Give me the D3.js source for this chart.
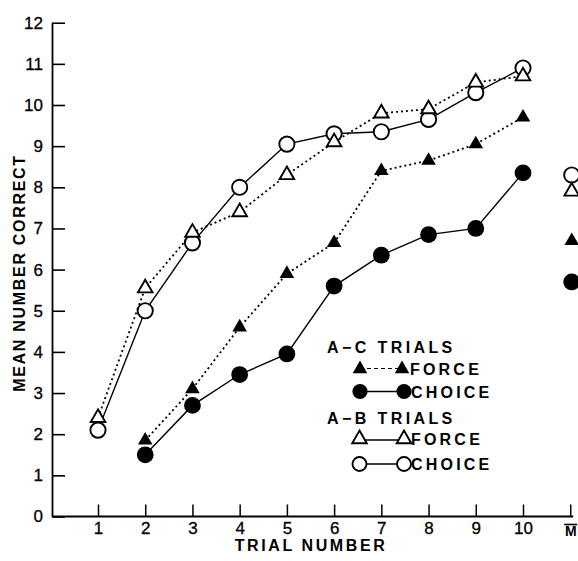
<!DOCTYPE html>
<html>
<head>
<meta charset="utf-8">
<script src="https://cdn.jsdelivr.net/npm/d3@7"></script>
<style>
  html, body { margin: 0; padding: 0; background: #fff; }
  svg { display: block; }
  text { font-family: "Liberation Sans", Arial, sans-serif; fill: #000; }
</style>
</head>
<body>
<svg id="chart" width="578" height="561"></svg>
<script>
// ---- data ----
const trials = [1, 2, 3, 4, 5, 6, 7, 8, 9, 10];
const acTrials = [2, 3, 4, 5, 6, 7, 8, 9, 10];
const abChoice = [2.1, 5.0, 6.65, 8.0, 9.05, 9.3, 9.35, 9.65, 10.3, 10.9];
const abForce  = [2.4, 5.55, 6.9, 7.4, 8.3, 9.1, 9.8, 9.9, 10.55, 10.7];
const acForce  = [1.85, 3.1, 4.6, 5.9, 6.65, 8.4, 8.65, 9.05, 9.7];
const acChoice = [1.5, 2.7, 3.45, 3.95, 5.6, 6.35, 6.85, 7.0, 8.35];
const meanPos = 11;
const means = { abChoice: 8.3, abForce: 7.9, acForce: 6.7, acChoice: 5.7 };
const yTicks = [0, 1, 2, 3, 4, 5, 6, 7, 8, 9, 10, 11, 12];
const xTicks = [1, 2, 3, 4, 5, 6, 7, 8, 9, 10, 11];
const xTickLabels = ["1", "2", "3", "4", "5", "6", "7", "8", "9", "10", "M"];
const xTitle = "TRIAL NUMBER";
const yTitle = "MEAN NUMBER CORRECT";
const legendHeads = ["A\u2212C TRIALS", "A\u2212B TRIALS"];
const legendLabels = ["FORCE", "CHOICE"];

// ---- scales ----
const svg = d3.select("#chart");
const x = d3.scaleLinear().domain([1, 10]).range([98, 523]);
const y = d3.scaleLinear().domain([0, 12]).range([516.5, 22.7]);
const axisX = 52;

// ---- y axis ----
const gy = svg.append("g").attr("transform", `translate(${axisX},0)`)
  .call(d3.axisLeft(y).tickValues(yTicks).tickSizeInner(-13).tickSizeOuter(0).tickPadding(9));
gy.select(".domain").attr("stroke", "#000").attr("stroke-width", 1.8);
gy.selectAll(".tick line").attr("stroke", "#000").attr("stroke-width", 1.6);
gy.selectAll(".tick text").attr("font-size", 17).attr("font-family", "Liberation Sans, Arial, sans-serif")
  .attr("stroke", "#000").attr("stroke-width", 0.3);

// ---- x axis ----
const gx = svg.append("g").attr("transform", `translate(0,${y(0)})`)
  .call(d3.axisBottom(x).tickValues(xTicks).tickFormat((d, i) => xTickLabels[i])
        .tickSizeInner(-12).tickSizeOuter(0).tickPadding(5));
gx.select(".domain").remove();
gx.append("line").attr("x1", axisX).attr("x2", x(meanPos) + 3).attr("y1", 0).attr("y2", 0)
  .attr("stroke", "#000").attr("stroke-width", 1.8);
gx.selectAll(".tick line").attr("stroke", "#000").attr("stroke-width", 1.5);
gx.selectAll(".tick text").attr("font-size", 17).attr("font-family", "Liberation Sans, Arial, sans-serif")
  .attr("stroke", "#000").attr("stroke-width", 0.3);
const mTick = gx.selectAll(".tick").filter(d => d === meanPos);
mTick.select("text").attr("font-weight", "bold").attr("font-size", 14).attr("dy", "1.05em")
  .attr("x", 0).attr("stroke", null);
mTick.append("line").attr("x1", -6.5).attr("x2", 6.5).attr("y1", 8).attr("y2", 8)
  .attr("stroke", "#000").attr("stroke-width", 1.6);

// ---- titles ----
svg.append("text").attr("x", 311).attr("y", 551).attr("text-anchor", "middle")
  .attr("font-size", 16).attr("font-weight", "bold").attr("letter-spacing", 2.6).text(xTitle);
svg.append("text").attr("transform", "translate(25,273) rotate(-90)").attr("text-anchor", "middle")
  .attr("font-size", 16).attr("font-weight", "bold").attr("letter-spacing", 1.7).text(yTitle);

// ---- lines ----
const line = d3.line().x(d => x(d[0])).y(d => y(d[1]));
const zip = (ts, vs) => ts.map((t, i) => [t, vs[i]]);
const series = [
  { data: zip(trials, abChoice), dash: null },
  { data: zip(trials, abForce), dash: "2,3" },
  { data: zip(acTrials, acForce), dash: "2,3" },
  { data: zip(acTrials, acChoice), dash: null }
];
series.forEach(s => {
  svg.append("path").attr("d", line(s.data)).attr("fill", "none").attr("stroke", "#000")
    .attr("stroke-width", s.dash ? 1.8 : 1.4).attr("stroke-dasharray", s.dash);
});

// ---- markers ----
const tri = d3.symbol(d3.symbolTriangle, 92);
function openCircle(g, cx, cy, r) {
  g.append("circle").attr("cx", cx).attr("cy", cy).attr("r", r || 7.6)
    .attr("fill", "#fff").attr("stroke", "#000").attr("stroke-width", 1.9);
}
function filledCircle(g, cx, cy, r) {
  g.append("circle").attr("cx", cx).attr("cy", cy).attr("r", r || 8.4).attr("fill", "#000");
}
function openTri(g, cx, cy) {
  g.append("path").attr("d", tri()).attr("transform", `translate(${cx},${cy})`)
    .attr("fill", "#fff").attr("stroke", "#000").attr("stroke-width", 1.9);
}
function filledTri(g, cx, cy) {
  g.append("path").attr("d", tri()).attr("transform", `translate(${cx},${cy})`).attr("fill", "#000");
}
const gm = svg.append("g");
acTrials.forEach((t, i) => filledCircle(gm, x(t), y(acChoice[i])));
acTrials.forEach((t, i) => filledTri(gm, x(t), y(acForce[i])));
trials.forEach((t, i) => openCircle(gm, x(t), y(abChoice[i])));
trials.forEach((t, i) => openTri(gm, x(t), y(abForce[i])));
// mean markers
openCircle(gm, x(meanPos) + 1.5, y(means.abChoice));
openTri(gm, x(meanPos) + 1.5, y(means.abForce));
filledTri(gm, x(meanPos) + 1.5, y(means.acForce));
filledCircle(gm, x(meanPos) + 1.5, y(means.acChoice));

// ---- legend ----
const lg = svg.append("g");
const headStyle = t => t.attr("font-size", 16).attr("font-weight", "bold").attr("letter-spacing", 3.4);
const lblStyle = t => t.attr("font-size", 16).attr("font-weight", "bold").attr("letter-spacing", 3.2);
headStyle(lg.append("text").attr("x", 327).attr("y", 353).text(legendHeads[0]));
// A-C force
lg.append("line").attr("x1", 360).attr("x2", 402).attr("y1", 368.5).attr("y2", 368.5)
  .attr("stroke", "#000").attr("stroke-width", 1.2).attr("stroke-dasharray", "4,3");
filledTri(lg, 360, 369); filledTri(lg, 402, 369);
lblStyle(lg.append("text").attr("x", 410).attr("y", 374.5).text(legendLabels[0]));
// A-C choice
lg.append("line").attr("x1", 360).attr("x2", 404).attr("y1", 391.5).attr("y2", 391.5)
  .attr("stroke", "#000").attr("stroke-width", 1.4);
filledCircle(lg, 360, 391.5, 7.6); filledCircle(lg, 404, 391.5, 7.6);
lblStyle(lg.append("text").attr("x", 411).attr("y", 398).text(legendLabels[1]));
headStyle(lg.append("text").attr("x", 327).attr("y", 423.5).text(legendHeads[1]));
// A-B force
lg.append("line").attr("x1", 359).attr("x2", 404).attr("y1", 440).attr("y2", 440)
  .attr("stroke", "#000").attr("stroke-width", 1.3);
openTri(lg, 359.5, 439); openTri(lg, 404, 439);
lblStyle(lg.append("text").attr("x", 411).attr("y", 444.5).text(legendLabels[0]));
// A-B choice
lg.append("line").attr("x1", 359).attr("x2", 405).attr("y1", 464).attr("y2", 464)
  .attr("stroke", "#000").attr("stroke-width", 1.3);
openCircle(lg, 359.5, 464, 7); openCircle(lg, 404, 464, 7);
lblStyle(lg.append("text").attr("x", 411).attr("y", 470).text(legendLabels[1]));
</script>
</body>
</html>
